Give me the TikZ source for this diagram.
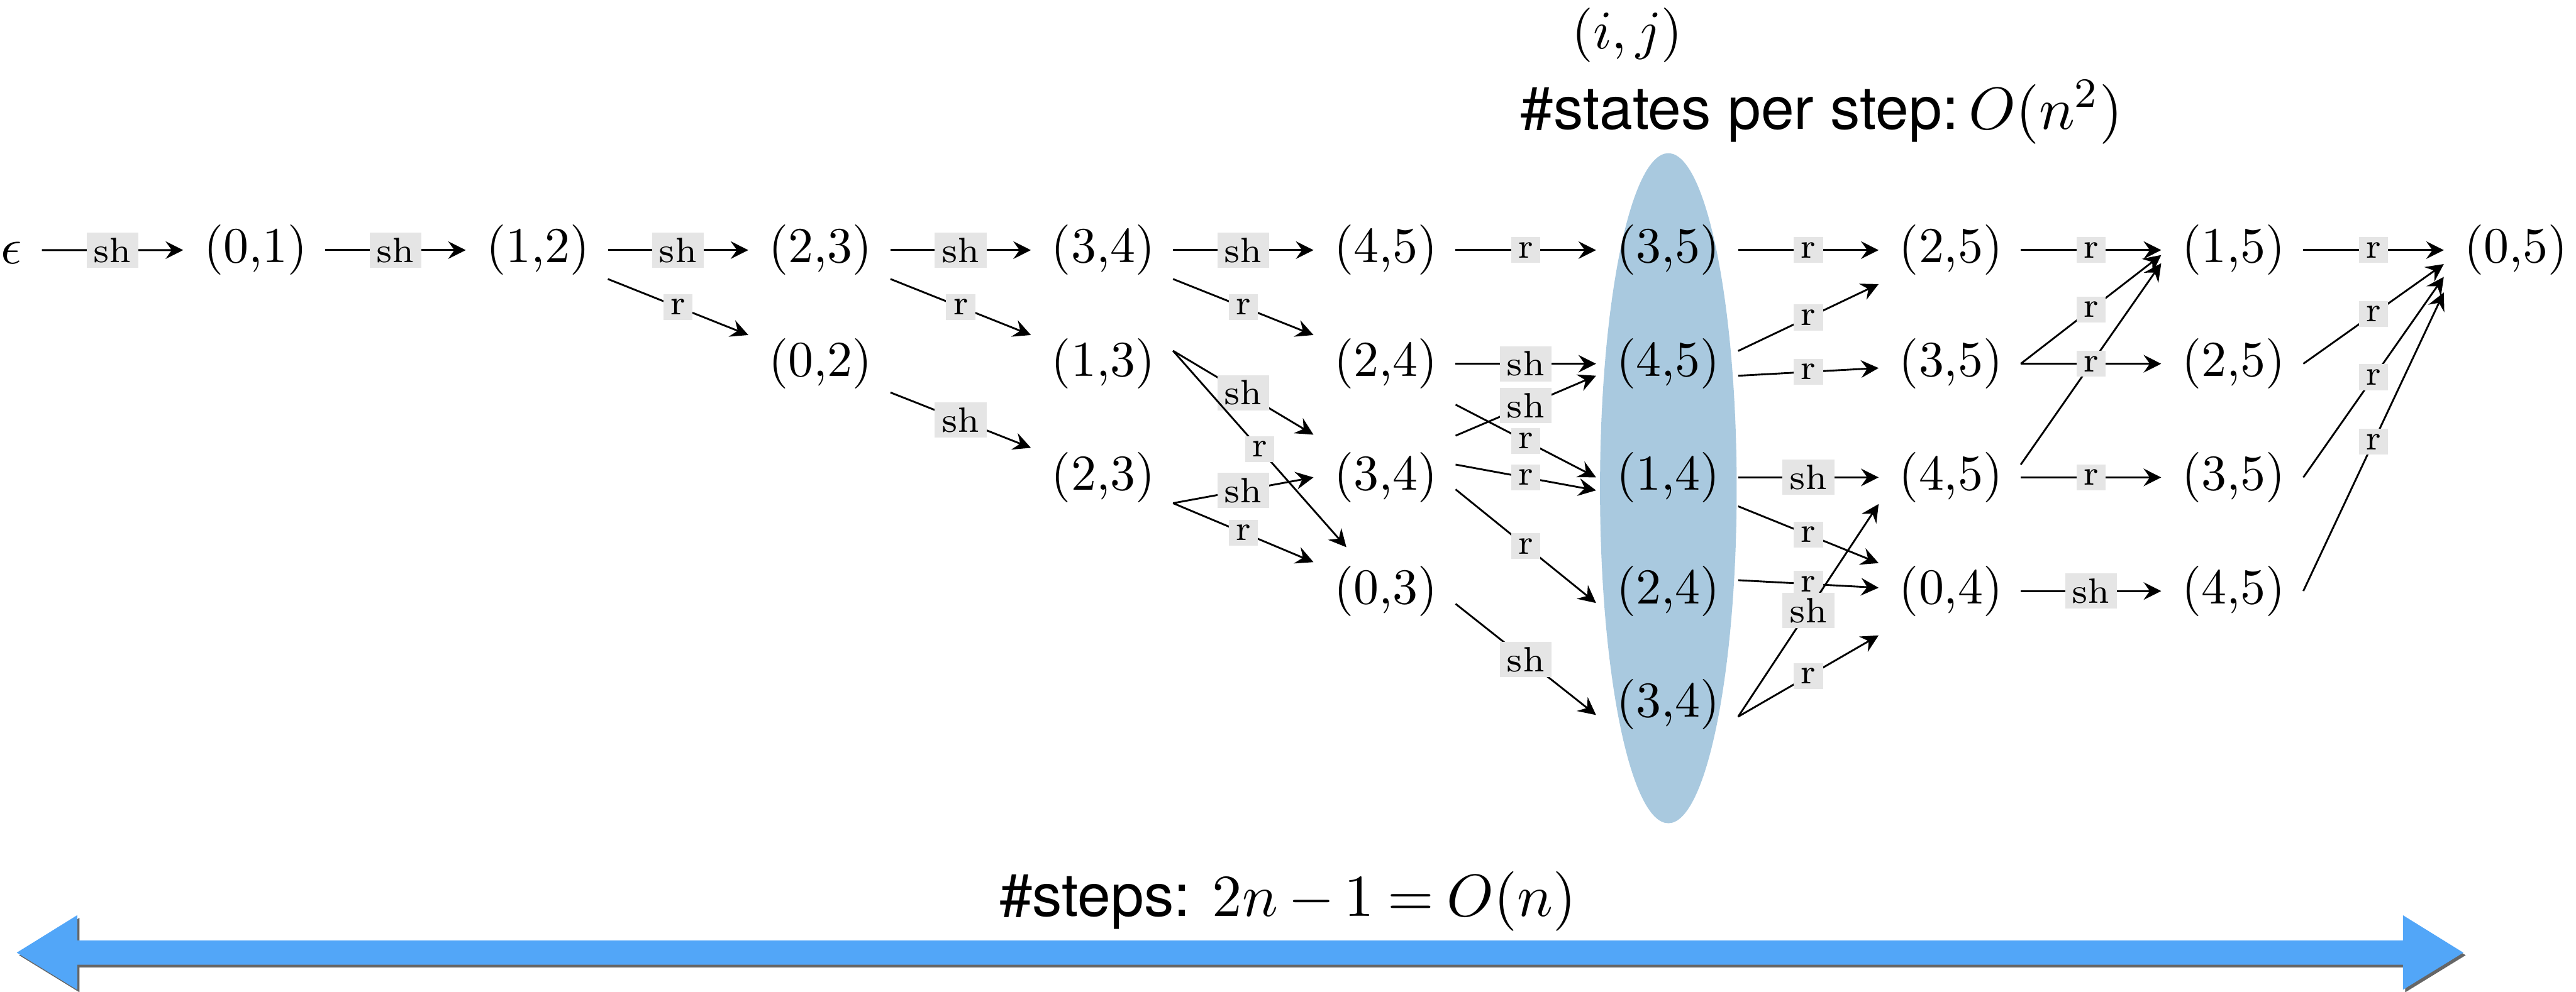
\RequirePackage{fix-cm}
\documentclass[tikz,border=0pt]{standalone}
\usepackage{fontspec}
\newfontfamily\headfont{TeX Gyre Heros}
\usetikzlibrary{arrows.meta,calc,shadows}
\definecolor{ellblue}{RGB}{169,201,223}
\definecolor{arrblue}{RGB}{82,166,248}
\definecolor{labgray}{RGB}{229,229,229}
\tikzset{
  state/.style={inner sep=0pt, font=\fontsize{9.7}{11}\selectfont},
  conn/.style={line width=0.35pt, -{Stealth[length=3.4pt,width=3.4pt,inset=1.2pt]}},
  lab/.style={fill=labgray, inner xsep=1.3pt, inner ysep=1pt, font=\fontsize{6.8}{8}\selectfont, midway},
  heading/.style={inner sep=0pt, anchor=base, font=\headfont\fontsize{11.5}{13}\selectfont},
}
\newcommand\myedge[5]{\draw[conn] ($(#1)+(42.5,#2)$) -- node[lab]{#5} ($(#3)+(-44,#4)$);}
\begin{document}
\begin{tikzpicture}[x=0.3169pt,y=-0.3169pt]
\useasboundingbox (0,0) rectangle (1568,604);
% background ellipse
\fill[ellblue] (1015.5,297.3) ellipse [x radius=41.6, y radius=204];
% headings
\node[inner sep=0pt, anchor=base, font=\fontsize{10.5}{12}\selectfont] (ij) at (990.5,29.5) {$(i,j)$};
\node[heading] (states) at (1108.7,78.5) {\#states per step:\,$O(n^2)$};
\node[heading] (steps) at (783.9,557.8) {\medmuskip=3mu\thickmuskip=4mu\#steps: $2n-1=O(n)$};
% states
\node[state] (eps) at (6.8,154) {$\epsilon$};
\node[state] (c0r1) at (155.5,152.3) {(0,1)};
\node[state] (c1r1) at (327.5,152.3) {(1,2)};
\node[state] (c2r1) at (499.5,152.3) {(2,3)};
\node[state] (c2r2) at (499.5,221.5) {(0,2)};
\node[state] (c3r1) at (671.5,152.3) {(3,4)};
\node[state] (c3r2) at (671.5,221.5) {(1,3)};
\node[state] (c3r3) at (671.5,290.7) {(2,3)};
\node[state] (c4r1) at (843.5,152.3) {(4,5)};
\node[state] (c4r2) at (843.5,221.5) {(2,4)};
\node[state] (c4r3) at (843.5,290.7) {(3,4)};
\node[state] (c4r4) at (843.5,359.9) {(0,3)};
\node[state] (c5r1) at (1015.5,152.3) {(3,5)};
\node[state] (c5r2) at (1015.5,221.5) {(4,5)};
\node[state] (c5r3) at (1015.5,290.7) {(1,4)};
\node[state] (c5r4) at (1015.5,359.9) {(2,4)};
\node[state] (c5r5) at (1015.5,429.1) {(3,4)};
\node[state] (c6r1) at (1187.5,152.3) {(2,5)};
\node[state] (c6r2) at (1187.5,221.5) {(3,5)};
\node[state] (c6r3) at (1187.5,290.7) {(4,5)};
\node[state] (c6r4) at (1187.5,359.9) {(0,4)};
\node[state] (c7r1) at (1359.5,152.3) {(1,5)};
\node[state] (c7r2) at (1359.5,221.5) {(2,5)};
\node[state] (c7r3) at (1359.5,290.7) {(3,5)};
\node[state] (c7r4) at (1359.5,359.9) {(4,5)};
\node[state] (c8r1) at (1531.5,152.3) {(0,5)};
% edges
\draw[conn] ($(eps)+(18.7,-1.7)$) -- node[lab]{sh} ($(c0r1)+(-44,0)$);
\myedge{c0r1}{0}{c1r1}{0}{sh}
\myedge{c1r1}{0}{c2r1}{0}{sh}
\myedge{c1r1}{17.6}{c2r2}{-17.5}{r}
\myedge{c2r1}{0}{c3r1}{0}{sh}
\myedge{c2r1}{17.6}{c3r2}{-17.5}{r}
\myedge{c2r2}{17.5}{c3r3}{-18}{sh}
\myedge{c3r1}{0}{c4r1}{0}{sh}
\myedge{c3r1}{17.6}{c4r2}{-17.5}{r}
\myedge{c3r2}{-7.9}{c4r3}{-26}{sh}
\draw[conn] ($(c3r2)+(42.5,-7.9)$) -- node[lab]{r} ($(c4r4)+(-24,-26.7)$);
\myedge{c3r3}{15.7}{c4r3}{0}{sh}
\myedge{c3r3}{15.7}{c4r4}{-17.6}{r}
\myedge{c4r1}{0}{c5r1}{0}{r}
\myedge{c4r2}{0}{c5r2}{0}{sh}
\myedge{c4r3}{-25.4}{c5r2}{7.3}{sh}
\myedge{c4r2}{24.9}{c5r3}{0}{r}
\myedge{c4r3}{-7.8}{c5r3}{7.9}{r}
\myedge{c4r3}{7.3}{c5r4}{7.3}{r}
\myedge{c4r4}{7.8}{c5r5}{6.3}{sh}
\myedge{c5r1}{0}{c6r1}{0}{r}
\myedge{c5r2}{-7.8}{c6r1}{20.7}{r}
\myedge{c5r2}{7.3}{c6r2}{2.6}{r}
\myedge{c5r3}{0}{c6r3}{0}{sh}
\myedge{c5r3}{17.6}{c6r4}{-17}{r}
\myedge{c5r4}{-6.6}{c6r4}{-2}{r}
\myedge{c5r5}{7.3}{c6r3}{16.2}{sh}
\myedge{c5r5}{7.3}{c6r4}{27}{r}
\myedge{c6r1}{0}{c7r1}{0}{r}
\myedge{c6r2}{0}{c7r1}{3}{r}
\myedge{c6r2}{0}{c7r2}{0}{r}
\myedge{c6r3}{-7.8}{c7r1}{8}{r}
\myedge{c6r3}{0}{c7r3}{0}{r}
\myedge{c6r4}{0}{c7r4}{0}{sh}
\myedge{c7r1}{0}{c8r1}{0}{r}
\myedge{c7r2}{0}{c8r1}{8.5}{r}
\myedge{c7r3}{0}{c8r1}{16.3}{r}
\myedge{c7r4}{0}{c8r1}{25.8}{r}
% big double arrow
\fill[arrblue, drop shadow={shadow xshift=0.45pt, shadow yshift=-0.5pt, opacity=0.6, fill=black}]
  (10.2,580.1) -- (47,557.3) -- (47,572.7) -- (1462.6,572.7) -- (1462.6,557.3)
  -- (1499.4,580.1) -- (1462.6,602.7) -- (1462.6,587.5) -- (47,587.5) -- (47,602.7) -- cycle;
\end{tikzpicture}
\end{document}
